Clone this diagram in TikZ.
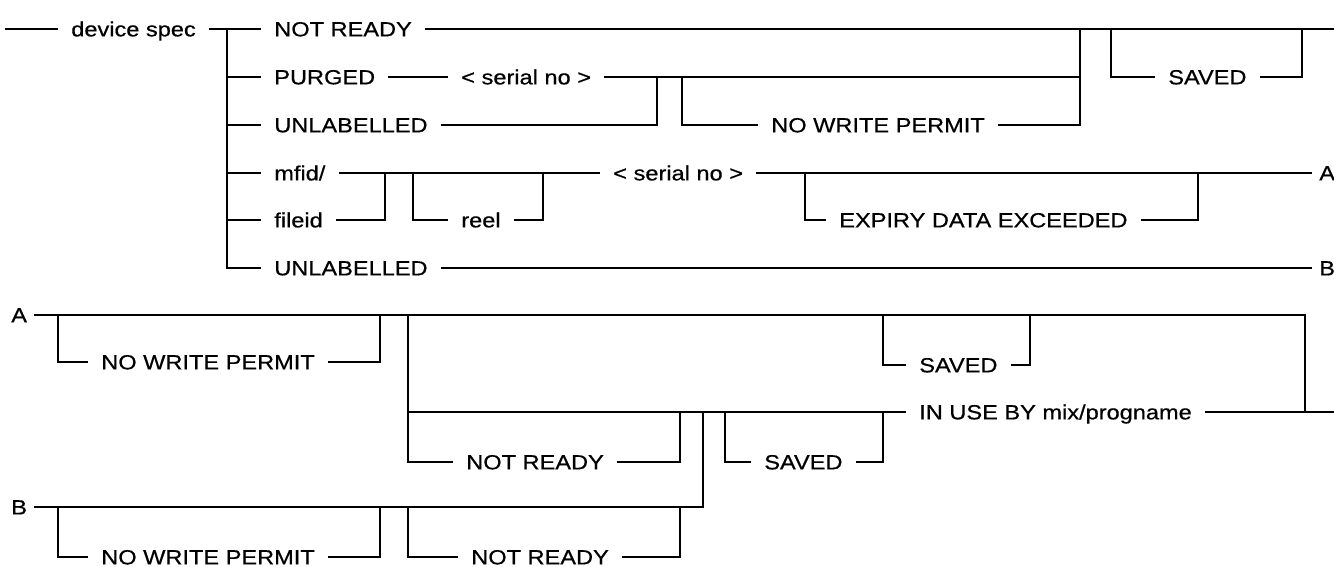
\documentclass[tikz,border=0pt]{standalone}
\usepackage{fontspec}
\newfontfamily\lbfont[FakeStretch=1.15,FakeBold=0.6]{Liberation Sans}
\begin{document}
\begin{tikzpicture}[x=1pt,y=-1pt,line width=2.6pt,
  lbl/.style={font=\lbfont\fontsize{20.5}{24}\selectfont, inner xsep=12pt, inner ysep=0pt,
              text height=14.7pt, text depth=0pt, anchor=west},
  ltr/.style={lbl, inner xsep=6pt}]
\useasboundingbox (0,0) rectangle (1334,567);
% ---------- top section: text nodes ----------
\node[lbl] (ds)  at (58,29)   {device spec};
\node[lbl] (nr)  at (261,29)  {NOT READY};
\node[lbl] (pg)  at (261,77)  {PURGED};
\node[lbl] (sn1) at (448,77)  {< serial no >};
\node[lbl] (ul1) at (261,125) {UNLABELLED};
\node[lbl] (nw1) at (758,125) {NO WRITE PERMIT};
\node[lbl] (sv1) at (1155,77) {SAVED};
\node[lbl] (mf)  at (261,173) {mfid/};
\node[lbl] (fi)  at (261,220) {fileid};
\node[lbl] (re)  at (448,220) {reel};
\node[lbl] (sn2) at (600,173) {< serial no >};
\node[lbl] (ex)  at (826,220) {EXPIRY DATA EXCEEDED};
\node[lbl] (ul2) at (261,268) {UNLABELLED};
\node[ltr] (A1)  at (1312,173) {A};
\node[ltr] (B1)  at (1312,268) {B};
% ---------- top section: junctions ----------
\coordinate (s0)  at (5,29);
\coordinate (j0)  at (227,29);
\coordinate (e1)  at (1334,29);
\coordinate (j2)  at (1080,29);
\coordinate (j3)  at (657,77);
\coordinate (j4)  at (682,77);
\coordinate (j5)  at (1111,29);
\coordinate (j6)  at (1302,29);
\coordinate (j7)  at (385,173);
\coordinate (j8)  at (413,173);
\coordinate (j9)  at (543,173);
\coordinate (j10) at (805,173);
\coordinate (j11) at (1198,173);
% ---------- top section: connectors ----------
\draw (s0) -- (ds.west);
\draw (ds.east) -- (nr.west);
\draw (j0) -- (j0 |- ul2.west) -- (ul2.west);
\draw (j0 |- pg.west) -- (pg.west);
\draw (j0 |- ul1.west) -- (ul1.west);
\draw (j0 |- mf.west) -- (mf.west);
\draw (j0 |- fi.west) -- (fi.west);
\draw (nr.east) -- (e1);
\draw (pg.east) -- (sn1.west);
\draw (sn1.east) -- (j2 |- sn1.east);
\draw (nw1.east) -- (j2 |- nw1.east) -- (j2);
\draw (ul1.east) -- (j3 |- ul1.east) -- (j3);
\draw (j4) -- (j4 |- nw1.west) -- (nw1.west);
\draw (j5) -- (j5 |- sv1.west) -- (sv1.west);
\draw (sv1.east) -- (j6 |- sv1.east) -- (j6);
\draw (mf.east) -- (sn2.west);
\draw (fi.east) -- (j7 |- fi.east) -- (j7);
\draw (j8) -- (j8 |- re.west) -- (re.west);
\draw (re.east) -- (j9 |- re.east) -- (j9);
\draw (sn2.east) -- (A1.west);
\draw (j10) -- (j10 |- ex.west) -- (ex.west);
\draw (ex.east) -- (j11 |- ex.east) -- (j11);
\draw (ul2.east) -- (B1.west);
% ---------- bottom section: text nodes ----------
\node[ltr] (A2)  at (4,315)   {A};
\node[lbl] (nw2) at (88,362)  {NO WRITE PERMIT};
\node[lbl] (nr2) at (453,462) {NOT READY};
\node[lbl] (sv3) at (751,462) {SAVED};
\node[lbl] (sv2) at (906,365) {SAVED};
\node[lbl] (iu)  at (906,412) {IN USE BY mix/progname};
\node[ltr] (B2)  at (4,507)   {B};
\node[lbl] (nw3) at (88,557)  {NO WRITE PERMIT};
\node[lbl] (nr3) at (458,557) {NOT READY};
% ---------- bottom section: junctions ----------
\coordinate (k1)  at (1305,315);
\coordinate (k2)  at (58,315);
\coordinate (k3)  at (380,315);
\coordinate (k4)  at (408,315);
\coordinate (k5)  at (680,412);
\coordinate (k6)  at (725,412);
\coordinate (k7)  at (883,412);
\coordinate (k8)  at (883,315);
\coordinate (k9)  at (1334,412);
\coordinate (k10) at (1030,315);
\coordinate (m1)  at (703,412);
\coordinate (m2)  at (58,507);
\coordinate (m3)  at (380,507);
\coordinate (m4)  at (408,507);
\coordinate (m5)  at (680,507);
% ---------- bottom section: connectors ----------
\draw (A2.east) -- (k1) -- (k1 |- iu.east);
\draw (iu.east) -- (k9);
\draw (k2) -- (k2 |- nw2.west) -- (nw2.west);
\draw (nw2.east) -- (k3 |- nw2.east) -- (k3);
\draw (k4) -- (k4 |- nr2.west) -- (nr2.west);
\draw (k4 |- iu.west) -- (iu.west);
\draw (nr2.east) -- (k5 |- nr2.east) -- (k5);
\draw (k6) -- (k6 |- sv3.west) -- (sv3.west);
\draw (sv3.east) -- (k7 |- sv3.east) -- (k7);
\draw (k8) -- (k8 |- sv2.west) -- (sv2.west);
\draw (sv2.east) -- (k10 |- sv2.east) -- (k10);
\draw (B2.east) -- (m1 |- B2.east) -- (m1);
\draw (m2) -- (m2 |- nw3.west) -- (nw3.west);
\draw (nw3.east) -- (m3 |- nw3.east) -- (m3);
\draw (m4) -- (m4 |- nr3.west) -- (nr3.west);
\draw (nr3.east) -- (m5 |- nr3.east) -- (m5);
\end{tikzpicture}
\end{document}
